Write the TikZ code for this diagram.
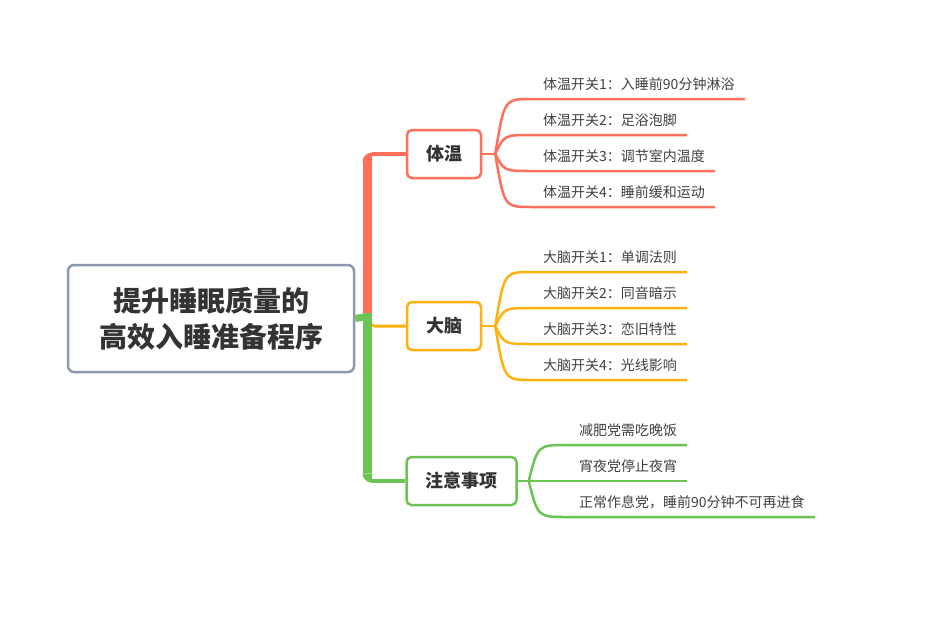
\documentclass[tikz,border=0pt]{standalone}
\usepackage{fontspec}
\newfontfamily\cjk{Noto Sans CJK SC}
\usepackage{tikz}
\definecolor{wenc}{HTML}{FF6F5B}
\definecolor{naoc}{HTML}{FFB20F}
\definecolor{zhuc}{HTML}{6CC454}
\definecolor{rootc}{HTML}{8E9AAB}
\definecolor{txt}{HTML}{333333}
\definecolor{leaftxt}{HTML}{404040}
\tikzset{
  topic/.style={draw, line width=2.5pt, rounded corners=5pt, fill=white, text=txt,
    font=\cjk\fontsize{18}{22}\selectfont\bfseries, inner xsep=19pt, minimum height=48pt},
  leaf/.style={anchor=south west, inner xsep=12pt, inner ysep=6pt, text=leaftxt,
    font=\cjk\fontsize{14}{16}\selectfont, text height=10pt, text depth=3pt},
  twig/.style={line width=2.5pt}
}

\begin{document}
\begin{tikzpicture}[x=1pt,y=-1pt]
\useasboundingbox (0,0) rectangle (931,616);
% main topic
\node[draw=rootc, line width=2.5pt, rounded corners=6pt, fill=white, text=txt, align=center,
  minimum width=286pt, minimum height=107pt, font=\cjk\fontsize{28}{36}\selectfont\bfseries]
  (root) at (211,318.5) {提升睡眠质量的\\高效入睡准备程序};
\node[topic, draw=wenc] (wen) at (444,154) {体温};
\node[topic, draw=naoc] (nao) at (444,326) {大脑};
\node[topic, draw=zhuc] (zhu) at (461.5,481) {注意事项};
\coordinate (trunk) at (367,316.5);

% trunk
\draw[naoc, line width=3pt, rounded corners=6pt] (369,316) |- (nao.west);
\draw[wenc, line width=3.5pt] (372,154) -- (wen.west);
\draw[zhuc, line width=3.5pt] (372,481) -- (zhu.west);
\draw[wenc, line width=9pt] (367,313) -- (367,162);
\fill[wenc] (362.5,162) arc[start angle=180, end angle=270, radius=9.5] -- (372,162) -- cycle;
\draw[zhuc, line width=9pt] (367,313) -- (367,473.25);
\fill[zhuc] (362.5,473.25) arc[start angle=180, end angle=90, radius=9.5] -- (372,473.25) -- cycle;
\draw[zhuc, line width=7pt] (root.east) -- (trunk);

% subtopics
\draw[wenc, twig] (wen.east) -- ++(13,0) coordinate (wenfan);
\foreach \i/\y/\e/\t in {1/99/745/{体温开关1：入睡前90分钟淋浴}, 2/135/687/{体温开关2：足浴泡脚},
    3/171/715/{体温开关3：调节室内温度}, 4/207/715/{体温开关4：睡前缓和运动}} {
  \node[leaf] (w\i) at (531,\y) {\t};
  \coordinate (w\i e) at (\e,\y);
  \draw[wenc, twig] (wenfan) .. controls ([xshift=9pt]wenfan |- w\i.south west) .. (w\i.south west) -- (w\i e);
}
\draw[naoc, twig] (nao.east) -- ++(13,0) coordinate (naofan);
\foreach \i/\y/\t in {1/272/{大脑开关1：单调法则}, 2/308/{大脑开关2：同音暗示},
    3/344/{大脑开关3：恋旧特性}, 4/380/{大脑开关4：光线影响}} {
  \node[leaf] (n\i) at (531,\y) {\t};
  \coordinate (n\i e) at (687,\y);
  \draw[naoc, twig] (naofan) .. controls ([xshift=9pt]naofan |- n\i.south west) .. (n\i.south west) -- (n\i e);
}
\draw[zhuc, twig] (zhu.east) -- ++(11,0) coordinate (zhufan);
\foreach \i/\y/\e/\t in {1/445/687/{减肥党需吃晚饭}, 2/481/687/{宵夜党停止夜宵},
    3/517/815/{正常作息党，睡前90分钟不可再进食}} {
  \node[leaf] (z\i) at (567,\y) {\t};
  \coordinate (z\i e) at (\e,\y);
  \draw[zhuc, twig] (zhufan) .. controls ([xshift=9pt]zhufan |- z\i.south west) .. (z\i.south west) -- (z\i e);
}
\end{tikzpicture}
\end{document}
